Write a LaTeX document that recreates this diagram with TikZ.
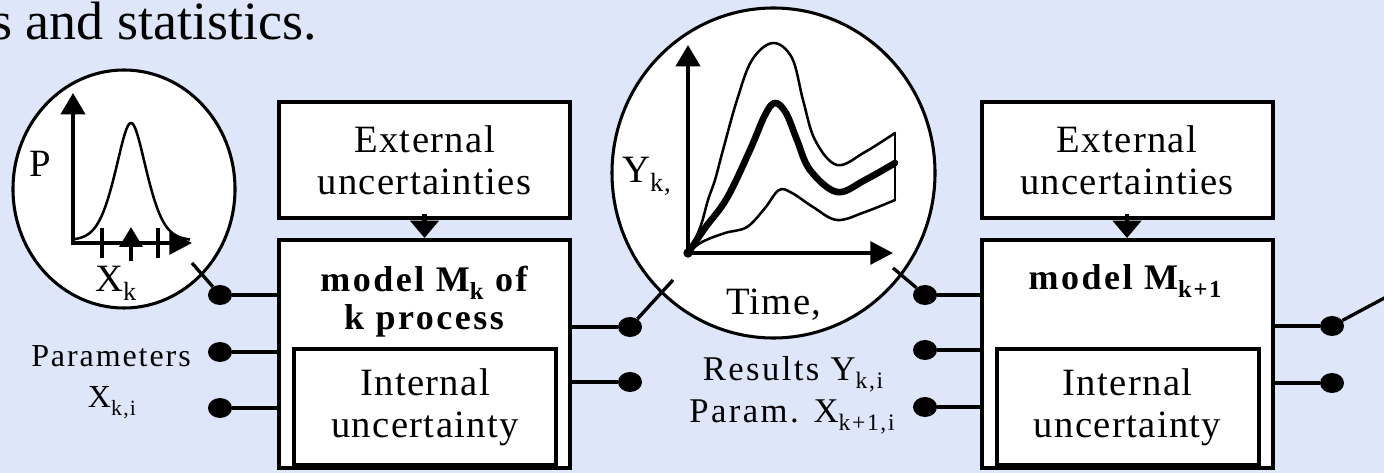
\documentclass[tikz,border=0pt]{standalone}
\usepackage{graphicx}
\usepackage{fontspec}
\setmainfont{Liberation Serif}
\newfontfamily\lsfam{Liberation Serif}[LetterSpace=3.5]
\newfontfamily\lsfamsm{Liberation Serif}[LetterSpace=6]
\newfontfamily\lsfamres{Liberation Serif}[LetterSpace=7]
\newfontfamily\lsbfam{Liberation Serif}[LetterSpace=7]
\newcommand\mainf{\lsfam\fontsize{29}{31.5}\selectfont}
\newcommand\smallf{\lsfamsm\fontsize{24}{28}\selectfont}
\newcommand\resf{\lsfamres\fontsize{26}{30}\selectfont}
\newcommand\boldf{\lsbfam\bfseries\fontsize{27}{28.5}\selectfont}
\newcommand\subx[1]{\raisebox{-0.22em}{\scalebox{0.68}{#1}}}
\usetikzlibrary{shapes.geometric,arrows.meta}
\definecolor{bgblue}{RGB}{222,231,249}
\begin{document}
\begin{tikzpicture}[x=0.75pt,y=-0.75pt,
  box/.style={draw, line width=3pt, fill=white, inner sep=0pt, align=center, font=\mainf},
  modelbox/.style={draw, line width=3pt, fill=white, inner sep=0pt, minimum width=218.25pt, minimum height=171pt},
  extbox/.style={box, minimum width=218.25pt, minimum height=87pt},
  intbox/.style={box, minimum width=196.5pt, minimum height=87pt},
  dot/.style={ellipse, fill=black, inner sep=0pt, minimum width=18pt, minimum height=15pt},
  wire/.style={line width=3.2pt},
  ring/.style={ellipse, draw, line width=2.3pt, fill=white, inner sep=0pt},
  axis/.style={line width=3pt, -{Triangle[length=16pt,width=18pt]}},
  thincurve/.style={line width=1.9pt, line join=round, line cap=round},
  thickcurve/.style={line width=5pt, line join=round, line cap=round},
  lbl/.style={inner sep=0pt, font=\mainf},
  boldlbl/.style={inner sep=0pt, font=\boldf, align=center},
  smalllbl/.style={inner sep=0pt, font=\smallf, anchor=base},
  reslbl/.style={inner sep=0pt, font=\resf, anchor=base}
]
\useasboundingbox (0,0) rectangle (1384,473);
\clip (0,0) rectangle (1384,473);
\fill[bgblue] (0,0) rectangle (1384,473);

% top text
\node[inner sep=0pt, anchor=base west, font=\fontsize{40.5}{46}\selectfont] (toptext) at (-9,40) {s and statistics.};

% ---------- left distribution circle ----------
\node[ring, minimum width=166.5pt, minimum height=178.5pt] (c1) at (124,189) {};
\draw[line width=1.9pt, line join=round] plot[domain=74:190, samples=160] (\x, {243-120*(0.6*exp(-1*(((\x-131)/24)^2))+0.4/(1+((\x-131)/16)^2))});
\draw[axis] (73,245) -- (73,93);
\draw[axis, -{Triangle[length=17pt,width=17pt]}] (71,243) -- (192,243);
\draw[line width=3pt] (102,228) -- (102,258);
\draw[line width=3pt] (158,228) -- (158,258);
\draw[line width=3.5pt, -{Triangle[length=15pt,width=17pt]}] (131,261) -- (131,227);
\node[lbl, anchor=base west] (plabel) at (29,177) {P};
\node[lbl, anchor=base west] (xklabel) at (95,292) {X\subx{k}};

% ---------- model k ----------
\node[extbox] (e1) at (424.5,160) {External\\uncertainties};
\node[modelbox] (m1) at (424.5,354) {};
\node[intbox] (i1) at (425,407) {Internal\\uncertainty};
\node[boldlbl] (m1t) at (424,302) {model M\subx{k} of\\k process};
\draw[wire, -{Triangle[length=13pt,width=21pt]}] ([yshift=4.5pt]e1.south) -- (m1.north);

\node[dot] (a1) at (220,295) {};
\node[dot] (a2) at (220,352) {};
\node[dot] (a3) at (220,408) {};
\draw[wire] (a1) -- (a1 -| m1.west);
\draw[wire] (a2) -- (a2 -| m1.west);
\draw[wire] (a3) -- (a3 -| m1.west);
\coordinate (c1x) at (192,263);
\draw[wire, line width=2.5pt] (c1x) -- (a1);

\node[smalllbl] (par1) at (111,367) {Parameters};
\node[smalllbl] (par2) at (112,408) {X\subx{k,i}};

% ---------- middle results circle ----------
\node[ring, minimum width=242.25pt, minimum height=247.5pt] (c2) at (773.5,173) {};
\draw[thincurve] plot[smooth, tension=0.6] coordinates {(688,253) (700,228) (708,200) (715,180) (723,150) (737,100) (752,60) (773,43) (792,58) (803,100) (815,140) (837,165) (865,152) (895,133)};
\draw[thincurve] plot[smooth, tension=0.6] coordinates {(688,253) (702,242) (725,233) (747,227) (765,208) (779,190) (792,193) (813,207) (837,220) (865,212) (895,200)};
\draw[thincurve] (895,133) -- (895,200);
\draw[thickcurve] plot[smooth, tension=0.6] coordinates {(688,253) (705,228) (727,198) (750,150) (765,115) (775,103) (786,113) (797,140) (810,170) (837,192) (865,180) (895,163)};
\draw[axis] (688,255) -- (688,45);
\draw[axis, -{Triangle[length=17pt,width=17pt]}] (686,253) -- (893,253);
\fill (688,253) circle[radius=3.5pt];
\node[lbl, anchor=base west] (yklabel) at (622,183) {Y\subx{k,}};
\node[lbl, anchor=base west] (timelabel) at (726,315) {Time,};

\node[dot] (b1) at (630,327) {};
\node[dot] (b2) at (630,382) {};
\draw[wire] (b1 -| m1.east) -- (b1);
\draw[wire] (b2 -| m1.east) -- (b2);
\coordinate (c2a) at (673,280);
\draw[wire, line width=2.5pt] (b1) -- (c2a);

\node[reslbl] (res1) at (793,381) {Results Y\subx{k,i}};
\node[reslbl] (res2) at (792,423) {Param. X\subx{k+1,i}};

% ---------- model k+1 ----------
\node[extbox] (e2) at (1127,160) {External\\uncertainties};
\node[modelbox] (m2) at (1127,354) {};
\node[intbox] (i2) at (1127.5,407) {Internal\\uncertainty};
\node[boldlbl, anchor=base] (m2t) at (1125,290) {model M\subx{k+1}};
\draw[wire, -{Triangle[length=13pt,width=21pt]}] ([yshift=4.5pt]e2.south) -- (m2.north);

\node[dot] (d1) at (925,295) {};
\node[dot] (d2) at (925,350) {};
\node[dot] (d3) at (925,407) {};
\draw[wire] (d1) -- (d1 -| m2.west);
\draw[wire] (d2) -- (d2 -| m2.west);
\draw[wire] (d3) -- (d3 -| m2.west);
\coordinate (c2b) at (893,268);
\draw[wire, line width=2.5pt] (c2b) -- (d1);

\node[dot] (f1) at (1332,326) {};
\node[dot] (f2) at (1332,383) {};
\draw[wire] (f1 -| m2.east) -- (f1);
\draw[wire] (f2 -| m2.east) -- (f2);
\coordinate (outend) at (1390,295);
\draw[wire, line width=2.5pt] (f1) -- (outend);
\end{tikzpicture}
\end{document}
